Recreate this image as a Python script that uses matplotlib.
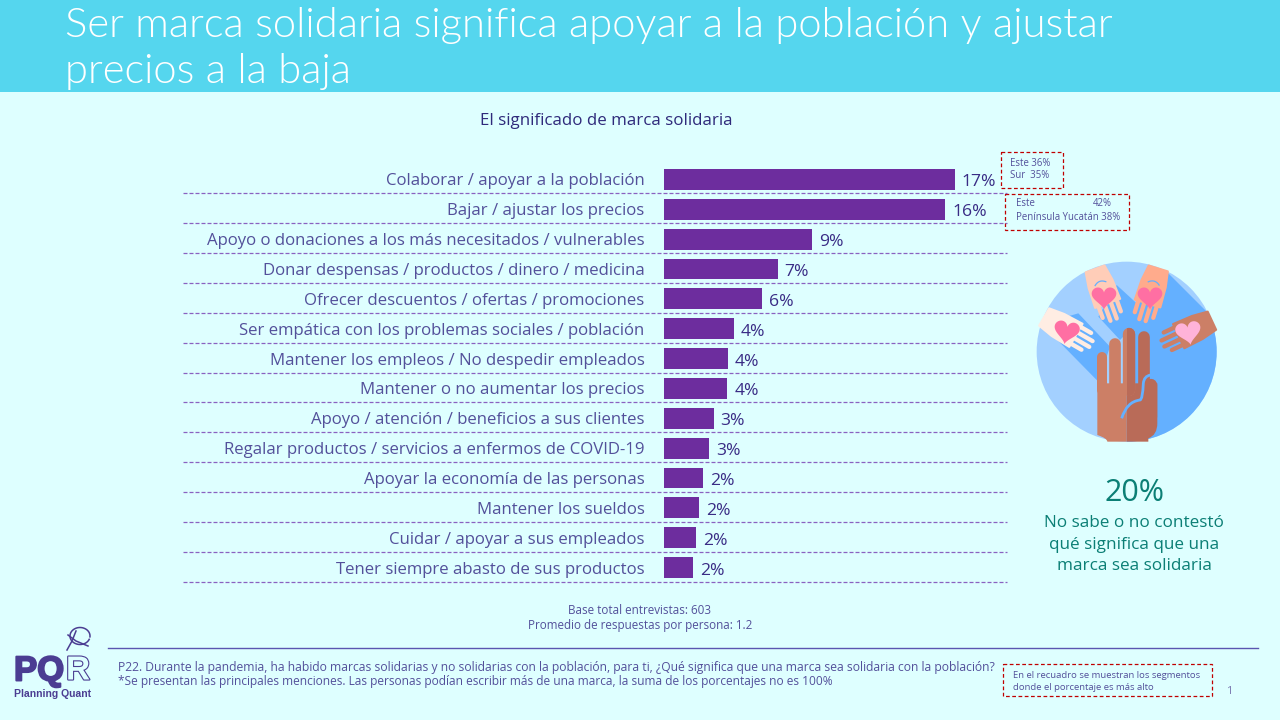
import numpy as np
import matplotlib
matplotlib.use("Agg")
import matplotlib.pyplot as plt
from matplotlib.patches import Rectangle, Circle, Polygon, PathPatch
from matplotlib.path import Path
import matplotlib.patheffects as pe

categories = ["Colaborar / apoyar a la población", "Bajar / ajustar los precios",
              "Apoyo o donaciones a los más necesitados / vulnerables",
              "Donar despensas / productos / dinero / medicina",
              "Ofrecer descuentos / ofertas / promociones",
              "Ser empática con los problemas sociales / población",
              "Mantener los empleos / No despedir empleados",
              "Mantener o no aumentar los precios",
              "Apoyo / atención / beneficios a sus clientes",
              "Regalar productos / servicios a enfermos de COVID-19",
              "Apoyar la economía de las personas", "Mantener los sueldos",
              "Cuidar / apoyar a sus empleados", "Tener siempre abasto de sus productos"]
values = [17.0, 16.45, 8.65, 6.65, 5.72, 4.1, 3.75, 3.7, 2.9, 2.65, 2.3, 2.05, 1.9, 1.7]
value_labels = ["17%", "16%", "9%", "7%", "6%", "4%", "4%", "4%", "3%", "3%", "2%", "2%", "2%", "2%"]

BG = "#DEFFFF"; HEAD = "#55D6EE"; BAR = "#6D2D9E"; LAB = "#53509A"; VAL = "#3A2C85"
RED = "#C00000"; GREEN = "#0B7F75"; NAVY = "#2F2A7B"; LOGO = "#4B3D92"
FONT = ["Open Sans", "DejaVu Sans"]
plt.rcParams["font.family"] = FONT

fig = plt.figure(figsize=(12.8, 7.2), dpi=100, facecolor=BG)
W, H = 1280, 720

ov = fig.add_axes([0, 0, 1, 1], zorder=1)
ov.set_xlim(0, W); ov.set_ylim(H, 0); ov.axis("off")
ov.add_patch(Rectangle((0, 0), W, 92, fc=HEAD, ec="none"))
ov.text(65, 26, "Ser marca solidaria significa apoyar a la población y ajustar", color="white",
        fontsize=30.05, va="center", ha="left", family=["Lato", "DejaVu Sans"], fontweight=300)
ov.text(65, 72, "precios a la baja", color="white", fontsize=30.05, va="center", ha="left",
        family=["Lato", "DejaVu Sans"], fontweight=300)
ov.text(606, 121, "El significado de marca solidaria", color=NAVY, fontsize=12.2, ha="center", va="center")

x0, x1, ytop, ybot = 664, 1007, 164.5, 582.5
ax = fig.add_axes([x0 / W, 1 - ybot / H, (x1 - x0) / W, (ybot - ytop) / H], zorder=2)
ax.patch.set_alpha(0)
pos = np.arange(len(categories))
ax.barh(pos, values, height=0.70, color=BAR)
ax.set_xlim(0, (x1 - x0) / 17.1)
ax.set_ylim(len(categories) - 0.5, -0.5)
ax.set_yticks(pos, categories, color=LAB, fontsize=12.08)
ax.tick_params(axis="y", length=0, pad=14)
ax.set_xticks([])
for s in ax.spines.values():
    s.set_visible(False)
for p in pos:
    ax.plot([(183 - x0) / (x1 - x0), 1], [p + 0.47, p + 0.47], transform=ax.get_yaxis_transform(),
            color="#8A62C0", lw=0.9, ls=(0, (3.2, 1.6)), clip_on=False)
for p, v, t in zip(pos, values, value_labels):
    ax.annotate(t, (v, p), xytext=(5, -2.2), textcoords="offset points", va="center", ha="left",
                color=VAL, fontsize=12.6)

def redbox(x, y, w, h):
    ov.add_patch(Rectangle((x, y), w, h, fc="none", ec=RED, lw=0.9, ls=(0, (3, 2))))

redbox(1001, 152, 62, 36)
ov.text(1010, 163, "Este 36%", color=LAB, fontsize=6.9, va="center")
ov.text(1010, 176, "Sur  35%", color=LAB, fontsize=6.9, va="center")
redbox(1005, 194, 124, 36)
ov.text(1016, 204, "Este", color=LAB, fontsize=6.9, va="center")
ov.text(1093, 204, "42%", color=LAB, fontsize=6.9, va="center")
ov.text(1016, 217, "Península Yucatán 38%", color=LAB, fontsize=6.9, va="center")
redbox(1003, 664, 209, 32)
ov.text(1013, 675.5, "En el recuadro se muestran los segmentos", color=LAB, fontsize=6.8, va="center")
ov.text(1013, 688, "donde el porcentaje es más alto", color=LAB, fontsize=6.8, va="center")
ov.text(1229, 692, "1", color="#7A78B0", fontsize=8, ha="center", va="center")

ov.text(1134, 493, "20%", color=GREEN, fontsize=22, ha="center", va="center")
for y, t in zip([523, 545, 566], ["No sabe o no contestó", "qué significa que una", "marca sea solidaria"]):
    ov.text(1134, y, t, color=GREEN, fontsize=12.3, ha="center", va="center", fontweight=500)

ov.text(640, 611, "Base total entrevistas: 603", color=LAB, fontsize=8.4, ha="center", va="center")
ov.text(640, 626, "Promedio de respuestas por persona: 1.2", color=LAB, fontsize=8.4, ha="center", va="center")

ov.plot([108, 1258], [648, 648], color="#5A55B0", lw=1)
ov.text(118, 667, "P22. Durante la pandemia, ha habido marcas solidarias y no solidarias con la población, para ti, ¿Qué significa que una marca sea solidaria con la población?",
        color=LAB, fontsize=8.75, va="center")
ov.text(118, 682, "*Se presentan las principales menciones. Las personas podían escribir más de una marca, la suma de los porcentajes no es 100%",
        color=LAB, fontsize=8.6, va="center")

# logo
ov.text(14, 671, "PQ", color=LOGO, fontsize=25, fontweight="bold", va="center", ha="left",
        family=["Liberation Sans", "DejaVu Sans"],
        path_effects=[pe.withStroke(linewidth=1.4, foreground=LOGO)])
ov.text(66, 671, "R", color=BG, fontsize=24, fontweight="bold", va="center", ha="left",
        family=["Liberation Sans", "DejaVu Sans"],
        path_effects=[pe.withStroke(linewidth=1.6, foreground=LOGO)])
ov.text(14, 694, "Planning Quant", color=LOGO, fontsize=7.5, fontweight="bold", va="center", ha="left",
        family=["Liberation Sans", "DejaVu Sans"])
th = np.linspace(0.4, 2 * np.pi + 0.1, 80)
ov.plot(80 + 10 * np.cos(th), 636 + 8.5 * np.sin(th), color=LOGO, lw=1.1)
ov.plot([67, 72, 76], [650, 641, 631], color=LOGO, lw=1.1)
ov.plot([68, 76, 88], [635, 641, 646], color=LOGO, lw=1.1)

# illustration
def Z(x, y):
    return 1020 + x / 3, 250 + y / 3

def ZZ(pts):
    return [Z(*p) for p in pts]

LIGHT = "#A3D0FF"; DARK = "#64B0FF"
circ = Circle(Z(320, 305), 90, fc=LIGHT, ec="none")
ov.add_patch(circ)
for pts in ([(445, 70), (600, 225), (600, 620), (320, 620), (320, 230), (335, 190), (350, 150)],
            [(290, 105), (350, 160), (330, 240), (300, 270), (235, 200)],
            [(65, 222), (175, 190), (270, 290), (235, 395)]):
    pg = Polygon(ZZ(pts), fc=DARK, ec="none")
    ov.add_patch(pg)
    pg.set_clip_path(circ)

def finger(xa, ya, xb, yb, col, **kw):
    cx = (xa + xb) / 2
    w = (xb - xa) / 3 * 0.72
    r = (xb - xa) / 2
    return ov.plot(*zip(Z(cx, ya + r), Z(cx, yb)), color=col, lw=w, solid_capstyle="round", zorder=3, **kw)[0]

SKIN = "#CC7F66"; SKIN2 = "#B96B58"
M, L, C = Path.MOVETO, Path.LINETO, Path.CURVE3
left = Path(ZZ([(232, 400), (320, 400), (320, 575), (262, 575), (262, 565), (232, 555), (232, 400)]),
            [M, L, L, L, C, C, L])
right = Path(ZZ([(320, 400), (412, 400), (412, 520), (412, 555), (385, 565), (385, 575), (320, 575), (320, 400)]),
             [M, L, L, C, C, L, L, L])
ov.add_patch(PathPatch(left, fc=SKIN, ec="none", zorder=3))
ov.add_patch(PathPatch(right, fc=SKIN2, ec="none", zorder=3))
finger(232, 305, 262, 420, SKIN)
finger(268, 265, 303, 420, SKIN)
finger(308, 232, 345, 420, SKIN)
clip = Rectangle(Z(320, 200), 60, 120, transform=ov.transData)
finger(308, 232, 345, 420, SKIN2).set_clip_path(clip)
finger(355, 242, 390, 420, SKIN2)
ov.add_patch(PathPatch(Path(ZZ([(305, 505), (320, 455), (360, 450), (368, 448), (370, 400), (372, 378), (392, 375)]),
                            [M, C, L, C, L, C, C]), fc="none", ec=DARK, lw=2, zorder=4))
finger(375, 385, 412, 500, SKIN2).set_zorder(3.5)

def heart(cx, cy, s, col, rot=0):
    t = np.linspace(0, 2 * np.pi, 80)
    hx = np.sin(t) ** 3 * s
    hy = -(13 * np.cos(t) - 5 * np.cos(2 * t) - 2 * np.cos(3 * t) - np.cos(4 * t)) / 16 * s
    a = np.radians(rot)
    pts = [Z(cx + x * np.cos(a) - y * np.sin(a), cy + x * np.sin(a) + y * np.cos(a)) for x, y in zip(hx, hy)]
    ov.add_patch(Polygon(pts, fc=col, ec="none", zorder=5))

def hand(cx, cy, deg, col, crease=True):
    a = np.radians(deg)
    d = np.array([np.cos(a), np.sin(a)]); n = np.array([-d[1], d[0]])
    c0 = np.array([cx, cy])
    P = lambda u, v: tuple(c0 + u * d + v * n)
    palm = [P(-78, -30), P(-78, 30), P(-30, 38), P(32, 40), P(32, -40), P(-30, -38)]
    ov.add_patch(Polygon(ZZ(palm), fc=col, ec=col, lw=1.5, joinstyle="round", zorder=2))
    for v, e in zip([-29, -10, 10, 29], [68, 84, 84, 68]):
        ov.plot(*zip(Z(*P(20, v)), Z(*P(e, v))), color=col, lw=3.1, solid_capstyle="round", zorder=2)
    if crease:
        vv = np.linspace(-17, 17, 20)
        uu = -38 + 7 * (vv / 17) ** 2
        ov.plot(*zip(*[Z(*P(u, v)) for u, v in zip(uu, vv)]), color=DARK, lw=0.9, zorder=2.5)

hand(252, 130, 70, "#FFCDB8")
hand(392, 130, 107, "#FFAB8C")
hand(140, 240, 30, "#FFEDE3", crease=False)
hand(505, 245, 155, "#CC7F66", crease=False)
heart(252, 140, 37, "#FF6FA3", 0)
heart(390, 140, 37, "#FF6FA3", 0)
heart(140, 243, 38, "#FF6FA3", 10)
heart(505, 245, 38, "#FFB3D9", -10)

fig.savefig("out.png", dpi=100, facecolor=BG)
